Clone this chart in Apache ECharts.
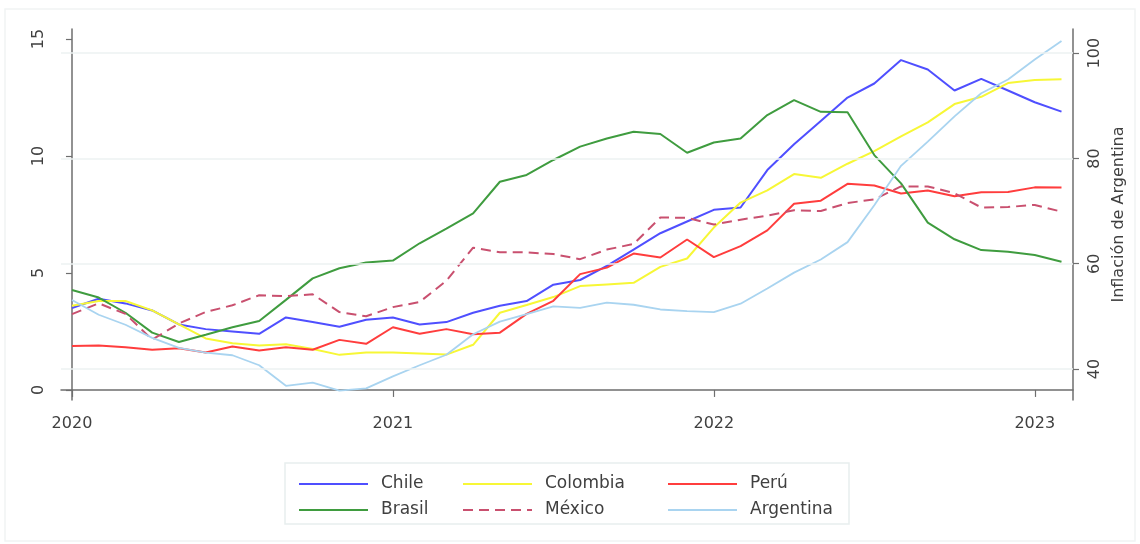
<!DOCTYPE html>
<html>
<head>
<meta charset="utf-8">
<script src="https://cdn.jsdelivr.net/npm/echarts@6/dist/echarts.min.js"></script>
<style>
  html, body { margin: 0; padding: 0; background: #ffffff; }
  #chart { width: 1140px; height: 544px; }
</style>
</head>
<body>
<div id="chart"></div>
<script>
// Monthly year-on-year inflation, Jan 2020 – Feb 2023 (index 0 = Jan 2020)
const months = Array.from({ length: 38 }, (_, i) => i);
const yearTicks = [0, 12, 24, 36];
const yearLabels = ['2020', '2021', '2022', '2023'];
const leftTicks = [0, 5, 10, 15];
const rightTicks = [40, 60, 80, 100];

const chile = [3.5, 3.9, 3.7, 3.4, 2.8, 2.6, 2.5, 2.4, 3.1, 2.9, 2.7, 3.0,
  3.1, 2.8, 2.9, 3.3, 3.6, 3.8, 4.5, 4.7, 5.3, 6.0, 6.7, 7.2,
  7.7, 7.8, 9.4, 10.5, 11.5, 12.5, 13.1, 14.1, 13.7, 12.8, 13.3, 12.8,
  12.3, 11.9];
const colombia = [3.6, 3.8, 3.8, 3.4, 2.8, 2.2, 2.0, 1.9, 1.95, 1.75, 1.5, 1.6,
  1.6, 1.56, 1.51, 1.93, 3.3, 3.63, 3.97, 4.44, 4.51, 4.58, 5.26, 5.62,
  6.94, 8.01, 8.53, 9.23, 9.07, 9.67, 10.21, 10.84, 11.44, 12.22, 12.53, 13.12,
  13.25, 13.28];
const peru = [1.88, 1.9, 1.82, 1.72, 1.78, 1.6, 1.86, 1.69, 1.82, 1.72, 2.14, 1.97,
  2.68, 2.4, 2.6, 2.38, 2.45, 3.25, 3.81, 4.95, 5.23, 5.83, 5.66, 6.43,
  5.68, 6.15, 6.82, 7.96, 8.09, 8.81, 8.74, 8.4, 8.53, 8.28, 8.45, 8.46,
  8.66, 8.65];
const brasil = [4.27, 3.95, 3.3, 2.45, 2.05, 2.36, 2.68, 2.95, 3.85, 4.77, 5.2, 5.45,
  5.53, 6.27, 6.9, 7.55, 8.9, 9.19, 9.83, 10.4, 10.75, 11.04, 10.94, 10.14,
  10.58, 10.75, 11.75, 12.39, 11.89, 11.87, 10.04, 8.83, 7.15, 6.44, 5.98, 5.91,
  5.77, 5.48];
const mexico = [3.24, 3.7, 3.25, 2.15, 2.84, 3.33, 3.62, 4.05, 4.01, 4.09, 3.33, 3.15,
  3.54, 3.76, 4.67, 6.08, 5.89, 5.88, 5.81, 5.59, 6.0, 6.24, 7.37, 7.36,
  7.07, 7.28, 7.45, 7.68, 7.65, 7.99, 8.15, 8.7, 8.7, 8.41, 7.8, 7.82,
  7.91, 7.62];
const argentina = [53.1, 50.3, 48.4, 45.9, 44.0, 43.1, 42.6, 40.7, 36.8, 37.4, 35.9, 36.3,
  38.6, 40.7, 42.7, 46.6, 49.0, 50.4, 51.9, 51.6, 52.6, 52.2, 51.3, 51.0,
  50.8, 52.4, 55.3, 58.3, 60.8, 64.1, 71.1, 78.6, 83.2, 88.0, 92.4, 95.0,
  98.8, 102.3];

const FONT = 'DejaVu Sans';
const TEXT = '#404040';
const AXIS = '#6e6e6e';

const pair = arr => arr.map((v, i) => [months[i], v]);

function lineSeries(name, data, color, opts = {}) {
  return Object.assign({
    name,
    type: 'line',
    data: pair(data),
    showSymbol: false,
    symbol: 'none',
    smooth: false,
    animation: false,
    silent: true,
    lineStyle: { color, width: 2 },
    itemStyle: { color },
    z: 3
  }, opts);
}

const legendBase = {
  orient: 'vertical',
  top: 469,
  itemWidth: 69,
  itemHeight: 14,
  itemGap: 6,
  selectedMode: false,
  itemStyle: { opacity: 0 },
  textStyle: { fontFamily: FONT, fontSize: 17, color: TEXT, lineHeight: 20, padding: [0, 0, 0, 8] }
};

const option = {
  backgroundColor: '#ffffff',
  animation: false,
  grid: { left: 61, right: 67, top: 29, bottom: 144, containLabel: false },
  graphic: [
    { type: 'rect', shape: { x: 5, y: 9, width: 1130, height: 532 },
      style: { fill: 'none', stroke: '#f1f4f4', lineWidth: 1.5 }, silent: true, z: -10 },
    { type: 'rect', shape: { x: 285, y: 463, width: 564, height: 61 },
      style: { fill: '#ffffff', stroke: '#e8eeee', lineWidth: 1.5 }, silent: true, z: -5 }
  ],
  legend: [
    Object.assign({ left: 293, data: ['Chile', 'Brasil'] }, legendBase),
    Object.assign({ left: 457, data: ['Colombia', 'México'] }, legendBase),
    Object.assign({ left: 662, data: ['Perú', 'Argentina'] }, legendBase)
  ],
  xAxis: {
    type: 'value',
    min: -0.41,
    max: 37.43,
    axisLine: { show: true, lineStyle: { color: AXIS, width: 1.5 } },
    axisTick: { show: true, length: 7, customValues: yearTicks, lineStyle: { color: AXIS, width: 1.2 } },
    axisLabel: {
      customValues: yearTicks,
      formatter: v => yearLabels[yearTicks.indexOf(Math.round(v))] || '',
      fontFamily: FONT, fontSize: 16, color: TEXT, margin: 16
    },
    splitLine: { show: false }
  },
  yAxis: [
    {
      type: 'value',
      position: 'left',
      min: -0.43,
      max: 15.43,
      axisLine: { show: true, lineStyle: { color: AXIS, width: 1.5 } },
      axisTick: { show: true, length: 6, customValues: leftTicks, lineStyle: { color: AXIS, width: 1.2 } },
      axisLabel: {
        customValues: leftTicks, rotate: 90,
        fontFamily: FONT, fontSize: 16, color: TEXT, margin: 14
      },
      splitLine: { show: false }
    },
    {
      type: 'value',
      position: 'right',
      min: 34.1,
      max: 104.6,
      name: 'Inflación de Argentina',
      nameLocation: 'middle',
      nameRotate: 90,
      nameGap: 34,
      nameTextStyle: { fontFamily: FONT, fontSize: 16, color: TEXT },
      axisLine: { show: true, lineStyle: { color: AXIS, width: 1.5 } },
      axisTick: { show: true, length: 6, customValues: rightTicks, lineStyle: { color: AXIS, width: 1.2 } },
      axisLabel: {
        customValues: rightTicks, rotate: 90,
        fontFamily: FONT, fontSize: 16, color: TEXT, margin: 14
      },
      splitLine: { show: false }
    }
  ],
  series: [
    // horizontal guide lines at the right-axis ticks
    {
      name: 'grid',
      type: 'line',
      yAxisIndex: 1,
      data: [],
      silent: true,
      z: 1,
      markLine: {
        silent: true,
        symbol: 'none',
        label: { show: false },
        animation: false,
        lineStyle: { color: '#ecf2f2', width: 1.5, type: 'solid' },
        data: rightTicks.map(v => ({ yAxis: v }))
      }
    },
    lineSeries('Chile', chile, '#4f4fff'),
    lineSeries('Colombia', colombia, '#f7f736'),
    lineSeries('Perú', peru, '#ff3d3d'),
    lineSeries('Brasil', brasil, '#3f9c3f'),
    lineSeries('México', mexico, '#c9506f', { lineStyle: { color: '#c9506f', width: 2, type: [10, 6] } }),
    lineSeries('Argentina', argentina, '#a9d4f0', { yAxisIndex: 1, lineStyle: { color: '#a9d4f0', width: 1.8 } })
  ]
};

const chart = echarts.init(document.getElementById('chart'), null, { renderer: 'canvas' });
chart.setOption(option);
</script>
</body>
</html>
